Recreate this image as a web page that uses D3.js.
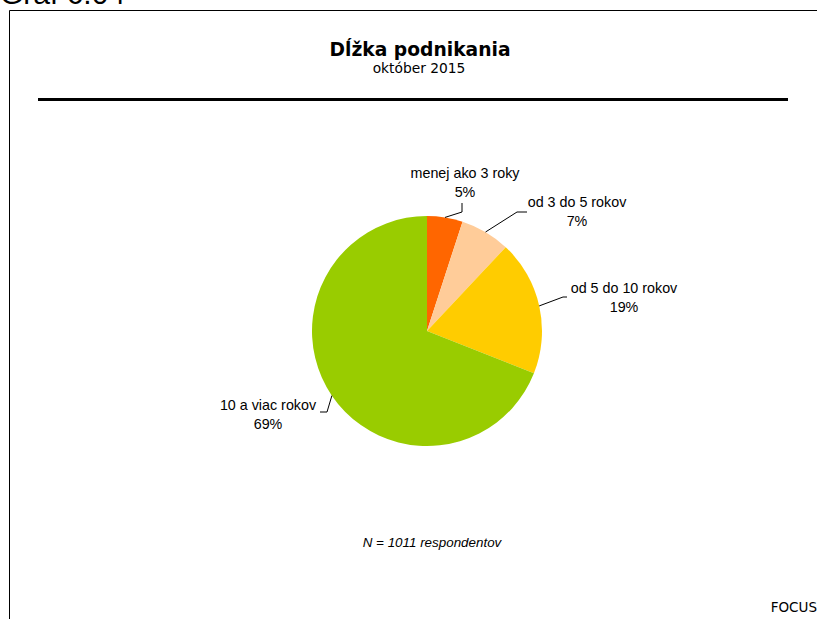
<!DOCTYPE html>
<html>
<head>
<meta charset="utf-8">
<script src="https://cdn.jsdelivr.net/npm/d3@7"></script>
<style>
  body { margin: 0; background: #fff; }
  svg { display: block; }
</style>
</head>
<body>
<svg id="chart" width="817" height="619"></svg>
<script>
// údaje grafu
const categories = ['menej ako 3 roky', 'od 3 do 5 rokov', 'od 5 do 10 rokov', '10 a viac rokov']
const values = [5, 7, 19, 69]
const colors = ['#FF6600', '#FFCC99', '#FFCC00', '#99CC00']

// umiestnenie popisiek (relatívne k stredu koláča)
const labelLayout = [
    { elbow: [35, -119], end: [35, -128], text: [38, -153], anchor: 'middle' },
    { elbow: [90, -119], end: [100, -119], text: [150, -124], anchor: 'middle' },
    { elbow: [136, -34], end: [140, -34], text: [197, -38], anchor: 'middle' },
    { elbow: [-100, 81], end: [-107, 81], text: [-159, 79], anchor: 'middle' },
]

const svg = d3.select('#chart')
const cx = 427
const cy = 331
const radius = 115

// rámik
svg.append('path')
    .attr('d', 'M9.5,619 V10.5 H817')
    .attr('fill', 'none')
    .attr('stroke', '#000')
    .attr('stroke-width', 1)

// číslo grafu (orezané hore)
svg.append('text')
    .attr('x', 0)
    .attr('y', 4)
    .attr('font-family', 'Liberation Sans, Arial, sans-serif')
    .attr('font-size', '30px')
    .attr('fill', '#000')
    .text('Graf 6.04')

// nadpis
svg.append('text')
    .attr('x', 420)
    .attr('y', 56)
    .attr('text-anchor', 'middle')
    .attr('font-family', 'DejaVu Sans, Verdana, sans-serif')
    .attr('font-weight', 'bold')
    .attr('font-size', '18.7px')
    .text('Dĺžka podnikania')

svg.append('text')
    .attr('x', 419)
    .attr('y', 73)
    .attr('text-anchor', 'middle')
    .attr('font-family', 'DejaVu Sans, Verdana, sans-serif')
    .attr('font-size', '13.8px')
    .text('október 2015')

svg.append('line')
    .attr('x1', 38).attr('x2', 788)
    .attr('y1', 99.5).attr('y2', 99.5)
    .attr('stroke', '#000')
    .attr('stroke-width', 3)

// koláč
const pie = d3.pie().sort(null).value(d => d)
const arcs = pie(values)
const arc = d3.arc().innerRadius(0).outerRadius(radius)

const g = svg.append('g').attr('transform', `translate(${cx},${cy})`)

g.selectAll('path.slice')
    .data(arcs)
    .enter()
    .append('path')
    .attr('class', 'slice')
    .attr('d', arc)
    .attr('fill', (d, i) => colors[i])

// vodiace čiary a popisky
const labels = g.selectAll('g.label')
    .data(arcs)
    .enter()
    .append('g')
    .attr('class', 'label')

labels.append('polyline')
    .attr('points', (d, i) => {
        const mid = (d.startAngle + d.endAngle) / 2
        const start = [Math.sin(mid) * radius, -Math.cos(mid) * radius]
        const l = labelLayout[i]
        return [start, l.elbow, l.end].map(p => p.join(',')).join(' ')
    })
    .attr('fill', 'none')
    .attr('stroke', '#000')
    .attr('stroke-width', 1)

const txt = labels.append('text')
    .attr('text-anchor', (d, i) => labelLayout[i].anchor)
    .attr('font-family', 'Liberation Sans, Arial, sans-serif')
    .attr('font-size', '14.3px')
    .attr('fill', '#000')

txt.append('tspan')
    .attr('x', (d, i) => labelLayout[i].text[0])
    .attr('y', (d, i) => labelLayout[i].text[1])
    .text((d, i) => categories[i])

txt.append('tspan')
    .attr('x', (d, i) => labelLayout[i].text[0])
    .attr('dy', 18.5)
    .text(d => `${d.data}%`)

// poznámka
svg.append('text')
    .attr('x', 432)
    .attr('y', 547)
    .attr('text-anchor', 'middle')
    .attr('font-family', 'Liberation Sans, Arial, sans-serif')
    .attr('font-style', 'italic')
    .attr('font-size', '13.4px')
    .text('N = 1011 respondentov')

svg.append('text')
    .attr('x', 817)
    .attr('y', 612)
    .attr('text-anchor', 'end')
    .attr('font-family', 'DejaVu Sans, Verdana, sans-serif')
    .attr('font-size', '13.5px')
    .text('FOCUS')
</script>
</body>
</html>
